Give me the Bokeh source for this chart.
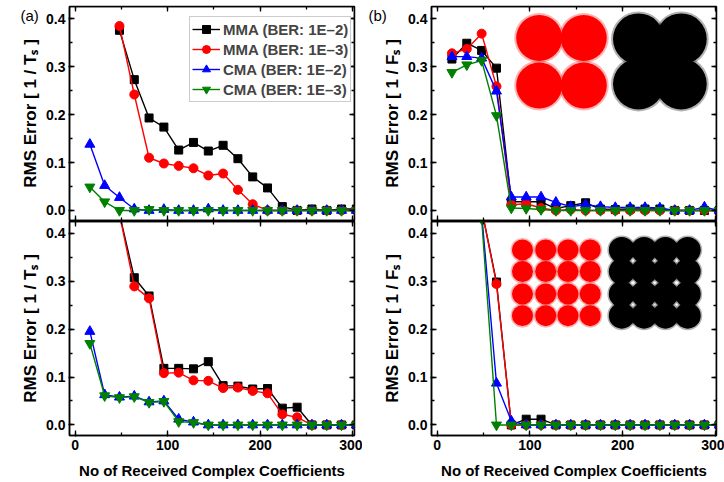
from bokeh.plotting import figure
from bokeh.layouts import gridplot
from bokeh.models import (LinearAxis, Range1d, Legend, LegendItem, Label,
                          SingleIntervalTicker, PrintfTickFormatter, CustomJSTickFormatter)
from bokeh.embed import file_html
from bokeh.resources import INLINE

nan = float("nan")

# x: number of received complex coefficients
n_coef = [16, 32, 48, 64, 80, 96, 112, 128, 144, 160, 176, 192, 208, 224, 240, 256, 272, 288, 304]

# (a) top panel  [1/Ts]
a_top_mma2 = [nan, nan, 0.376, 0.273, 0.193, 0.174, 0.126, 0.142, 0.124, 0.136, 0.108, 0.070, 0.047, 0.008, 0.000, 0.003, 0.000, 0.003, 0.003]
a_top_mma3 = [nan, nan, 0.385, 0.242, 0.110, 0.098, 0.093, 0.088, 0.073, 0.077, 0.043, 0.013, 0.000, 0.000, 0.000, 0.000, 0.000, 0.000, 0.000]
a_top_cma2 = [0.138, 0.052, 0.027, 0.003, 0.000, 0.002, 0.000, 0.000, 0.003, 0.000, 0.000, 0.000, 0.000, 0.000, 0.000, 0.000, 0.000, 0.000, 0.000]
a_top_cma3 = [0.049, 0.018, 0.000, 0.000, 0.002, 0.000, 0.000, 0.000, 0.000, 0.000, 0.000, 0.000, 0.000, 0.000, 0.000, 0.000, 0.000, 0.000, 0.000]

# (a) bottom panel  [1/Ts]
a_bot_mma2 = [nan, nan, 0.440, 0.307, 0.269, 0.118, 0.118, 0.117, 0.132, 0.082, 0.081, 0.075, 0.076, 0.035, 0.037, 0.000, 0.000, 0.000, 0.000]
a_bot_mma3 = [nan, nan, 0.440, 0.289, 0.264, 0.108, 0.109, 0.093, 0.092, 0.077, 0.078, 0.071, 0.066, 0.022, 0.016, 0.000, 0.000, 0.000, 0.000]
a_bot_cma2 = [0.195, 0.063, 0.058, 0.060, 0.048, 0.050, 0.012, 0.006, 0.000, 0.000, 0.000, 0.000, 0.000, 0.000, 0.000, 0.000, 0.000, 0.000, 0.000]
a_bot_cma3 = [0.170, 0.061, 0.057, 0.059, 0.047, 0.049, 0.007, 0.005, 0.000, 0.000, 0.000, 0.000, 0.000, 0.000, 0.000, 0.000, 0.000, 0.000, 0.000]

# (b) top panel  [1/Fs]
b_top_mma2 = [0.316, 0.349, 0.334, 0.297, 0.018, 0.018, 0.018, 0.004, 0.010, 0.016, 0.003, 0.002, 0.003, 0.003, 0.003, 0.000, 0.000, 0.000, 0.000]
b_top_mma3 = [0.328, 0.337, 0.369, 0.259, 0.012, 0.014, 0.005, 0.000, 0.002, 0.000, 0.000, 0.000, 0.000, 0.000, 0.000, 0.000, 0.000, 0.000, 0.000]
b_top_cma2 = [0.321, 0.321, 0.318, 0.249, 0.028, 0.028, 0.028, 0.017, 0.008, 0.012, 0.008, 0.006, 0.006, 0.006, 0.005, 0.000, 0.000, 0.007, 0.000]
b_top_cma3 = [0.288, 0.304, 0.313, 0.198, 0.005, 0.004, 0.002, 0.000, 0.000, 0.000, 0.000, 0.000, 0.000, 0.000, 0.000, 0.000, 0.000, 0.000, 0.000]

# (b) bottom panel  [1/Fs]
b_bot_mma2 = [nan, nan, 0.450, 0.298, 0.000, 0.012, 0.012, 0.000, 0.000, 0.000, 0.000, 0.000, 0.000, 0.000, 0.000, 0.000, 0.000, 0.000, 0.000]
b_bot_mma3 = [nan, nan, 0.450, 0.294, 0.000, 0.000, 0.000, 0.000, 0.000, 0.000, 0.000, 0.000, 0.000, 0.000, 0.000, 0.000, 0.000, 0.000, 0.000]
b_bot_cma2 = [nan, nan, 0.440, 0.087, 0.008, 0.000, 0.000, 0.000, 0.000, 0.000, 0.000, 0.000, 0.000, 0.000, 0.000, 0.000, 0.000, 0.000, 0.000]
b_bot_cma3 = [nan, nan, 0.430, 0.000, 0.000, 0.000, 0.000, 0.000, 0.000, 0.000, 0.000, 0.000, 0.000, 0.000, 0.000, 0.000, 0.000, 0.000, 0.000]

series_names = ["MMA (BER: 1E\u20132)", "MMA (BER: 1E\u20133)", "CMA (BER: 1E\u20132)", "CMA (BER: 1E\u20133)"]

# constellation insets (cluster centres, in the panel's data coordinates)
qpsk_red_x = [110, 158, 110, 158]
qpsk_red_y = [0.360, 0.360, 0.261, 0.261]
qpsk_blk_x = [217, 263, 217, 263]
qpsk_blk_y = [0.358, 0.358, 0.264, 0.264]
qpsk_blk_mid_x = [240]
qpsk_blk_mid_y = [0.311]

qam_red_cols = [92, 117, 141, 165]
qam_blk_cols = [199, 223, 246, 270]
qam_rows = [0.365, 0.320, 0.273, 0.228]

COLORS = ["black", "#ff0000", "#0000ff", "#008000"]
MARKERS = ["square", "circle", "triangle", "inverted_triangle"]
MSIZES = [8, 9, 10, 10]

FONT = "Liberation Sans"
BLANK = CustomJSTickFormatter(code="return ''")


def make_fig(width, height, mbl, mbr, mbt, mbb, xr, yr):
    p = figure(width=width, height=height, x_range=Range1d(*xr), y_range=Range1d(*yr),
               output_backend="svg", toolbar_location=None,
               x_axis_location=None, y_axis_location=None,
               min_border_left=mbl, min_border_right=mbr,
               min_border_top=mbt, min_border_bottom=mbb)
    p.xgrid.visible = False
    p.ygrid.visible = False
    p.outline_line_color = "black"
    p.outline_line_width = 1.5
    p.background_fill_color = "white"
    p.border_fill_color = "white"
    return p


def style_axis(ax, labels, title_size="15px"):
    ax.axis_line_width = 1.5
    ax.axis_line_color = "black"
    ax.major_tick_line_width = 1.3
    ax.minor_tick_line_width = 1.3
    ax.major_tick_in = 5
    ax.major_tick_out = 1 if labels else 0
    ax.minor_tick_in = 3
    ax.minor_tick_out = 0
    ax.major_label_text_font = FONT
    ax.major_label_text_font_style = "bold"
    ax.major_label_text_font_size = "14px"
    ax.major_label_text_color = "black"
    ax.axis_label_text_font = FONT
    ax.axis_label_text_font_style = "bold"
    ax.axis_label_text_font_size = title_size
    ax.axis_label_text_color = "black"


def add_axes(p, xr, yr, ylabel, xlabels):
    yt = lambda: SingleIntervalTicker(interval=0.1, num_minor_ticks=2)
    xt = lambda: SingleIntervalTicker(interval=100, num_minor_ticks=2)
    left = LinearAxis(ticker=yt(), formatter=PrintfTickFormatter(format="%.1f"),
                      axis_label=ylabel, major_label_standoff=3, axis_label_standoff=3)
    style_axis(left, True, "17px")
    p.add_layout(left, "left")
    right = LinearAxis(fixed_location=xr[1], ticker=yt(), formatter=BLANK)
    style_axis(right, False)
    p.add_layout(right, "right")
    top = LinearAxis(fixed_location=yr[1], ticker=xt(), formatter=BLANK)
    style_axis(top, False)
    p.add_layout(top, "above")
    if xlabels:
        bottom = LinearAxis(ticker=xt(), formatter=PrintfTickFormatter(format="%d"),
                            axis_label="No of Received Complex Coefficients",
                            major_label_standoff=3, axis_label_standoff=9)
        style_axis(bottom, True, "15px")
    else:
        bottom = LinearAxis(fixed_location=yr[0], ticker=xt(), formatter=BLANK)
        style_axis(bottom, True)
        bottom.major_tick_out = 3
    p.add_layout(bottom, "below")


def add_series(p, ys_list):
    items = []
    for ys, c, m, s, name in zip(ys_list, COLORS, MARKERS, MSIZES, series_names):
        r1 = p.line(n_coef, ys, line_color=c, line_width=1.4)
        r2 = p.scatter(n_coef, ys, marker=m, size=s, fill_color=c, line_color=c)
        items.append(LegendItem(label=name, renderers=[r1, r2]))
    return items


def panel_label(p, text, x, y):
    p.add_layout(Label(x=x, y=y, x_units="screen", y_units="screen", text=text,
                       text_font=FONT, text_font_size="15px",
                       text_color="black", text_align="left", text_baseline="middle"), "left")


XR_A = (-6, 302)
XR_B = (-6, 301)
YR_T = (-0.021, 0.4257)
YR_B = (-0.022, 0.4243)

# (a) top
pa1 = make_fig(362, 221, 64, 8, 6, 1, XR_A, YR_T)
add_axes(pa1, XR_A, YR_T, "RMS Error [ 1 / T\u209b ]", False)
items = add_series(pa1, [a_top_mma2, a_top_mma3, a_top_cma2, a_top_cma3])
leg = Legend(items=items, location=(120, 118), border_line_color="#999999", border_line_width=1,
             background_fill_color="white", background_fill_alpha=1, padding=2, spacing=0,
             label_text_font=FONT, label_text_font_style="bold", label_text_font_size="15px",
             label_height=20, glyph_height=20, glyph_width=28, label_standoff=3, margin=0)
pa1.add_layout(leg)
panel_label(pa1, "(a)", 20, 205)

# (a) bottom
pa2 = make_fig(362, 261, 64, 8, 0, 47, XR_A, YR_B)
add_axes(pa2, XR_A, YR_B, "RMS Error [ 1 / T\u209b ]", True)
add_series(pa2, [a_bot_mma2, a_bot_mma3, a_bot_cma2, a_bot_cma3])

# (b) top
pb1 = make_fig(362, 221, 61, 8, 6, 1, XR_B, YR_T)
add_axes(pb1, XR_B, YR_T, "RMS Error [ 1 / F\u209b ]", False)
pb1.scatter(qpsk_red_x, qpsk_red_y, size=50, fill_color="#ff0000", line_color=None, fill_alpha=0.3)
pb1.scatter(qpsk_red_x, qpsk_red_y, size=46, fill_color="#ff0000", line_color=None)
pb1.scatter(qpsk_blk_x, qpsk_blk_y, size=55, fill_color="black", line_color=None, fill_alpha=0.3)
pb1.scatter(qpsk_blk_x, qpsk_blk_y, size=51, fill_color="black", line_color=None)
pb1.scatter(qpsk_blk_mid_x, qpsk_blk_mid_y, size=22, fill_color="black", line_color=None)
add_series(pb1, [b_top_mma2, b_top_mma3, b_top_cma2, b_top_cma3])
panel_label(pb1, "(b)", 6, 205)

# (b) bottom
pb2 = make_fig(362, 261, 61, 8, 0, 47, XR_B, YR_B)
add_axes(pb2, XR_B, YR_B, "RMS Error [ 1 / F\u209b ]", True)
qr_x = [c for r in qam_rows for c in qam_red_cols]
qr_y = [r for r in qam_rows for c in qam_red_cols]
qb_x = [c for r in qam_rows for c in qam_blk_cols]
qb_y = [r for r in qam_rows for c in qam_blk_cols]
pb2.scatter(qr_x, qr_y, size=24, fill_color="#ff0000", line_color=None, fill_alpha=0.3)
pb2.scatter(qr_x, qr_y, size=21, fill_color="#ff0000", line_color=None)
pb2.scatter(qb_x, qb_y, size=29, fill_color="black", line_color=None, fill_alpha=0.3)
pb2.scatter(qb_x, qb_y, size=26, fill_color="black", line_color=None)
add_series(pb2, [b_bot_mma2, b_bot_mma3, b_bot_cma2, b_bot_cma3])

grid = gridplot([[pa1, pb1], [pa2, pb2]], toolbar_location=None)

open("out.html", "w").write(file_html(grid, INLINE))
